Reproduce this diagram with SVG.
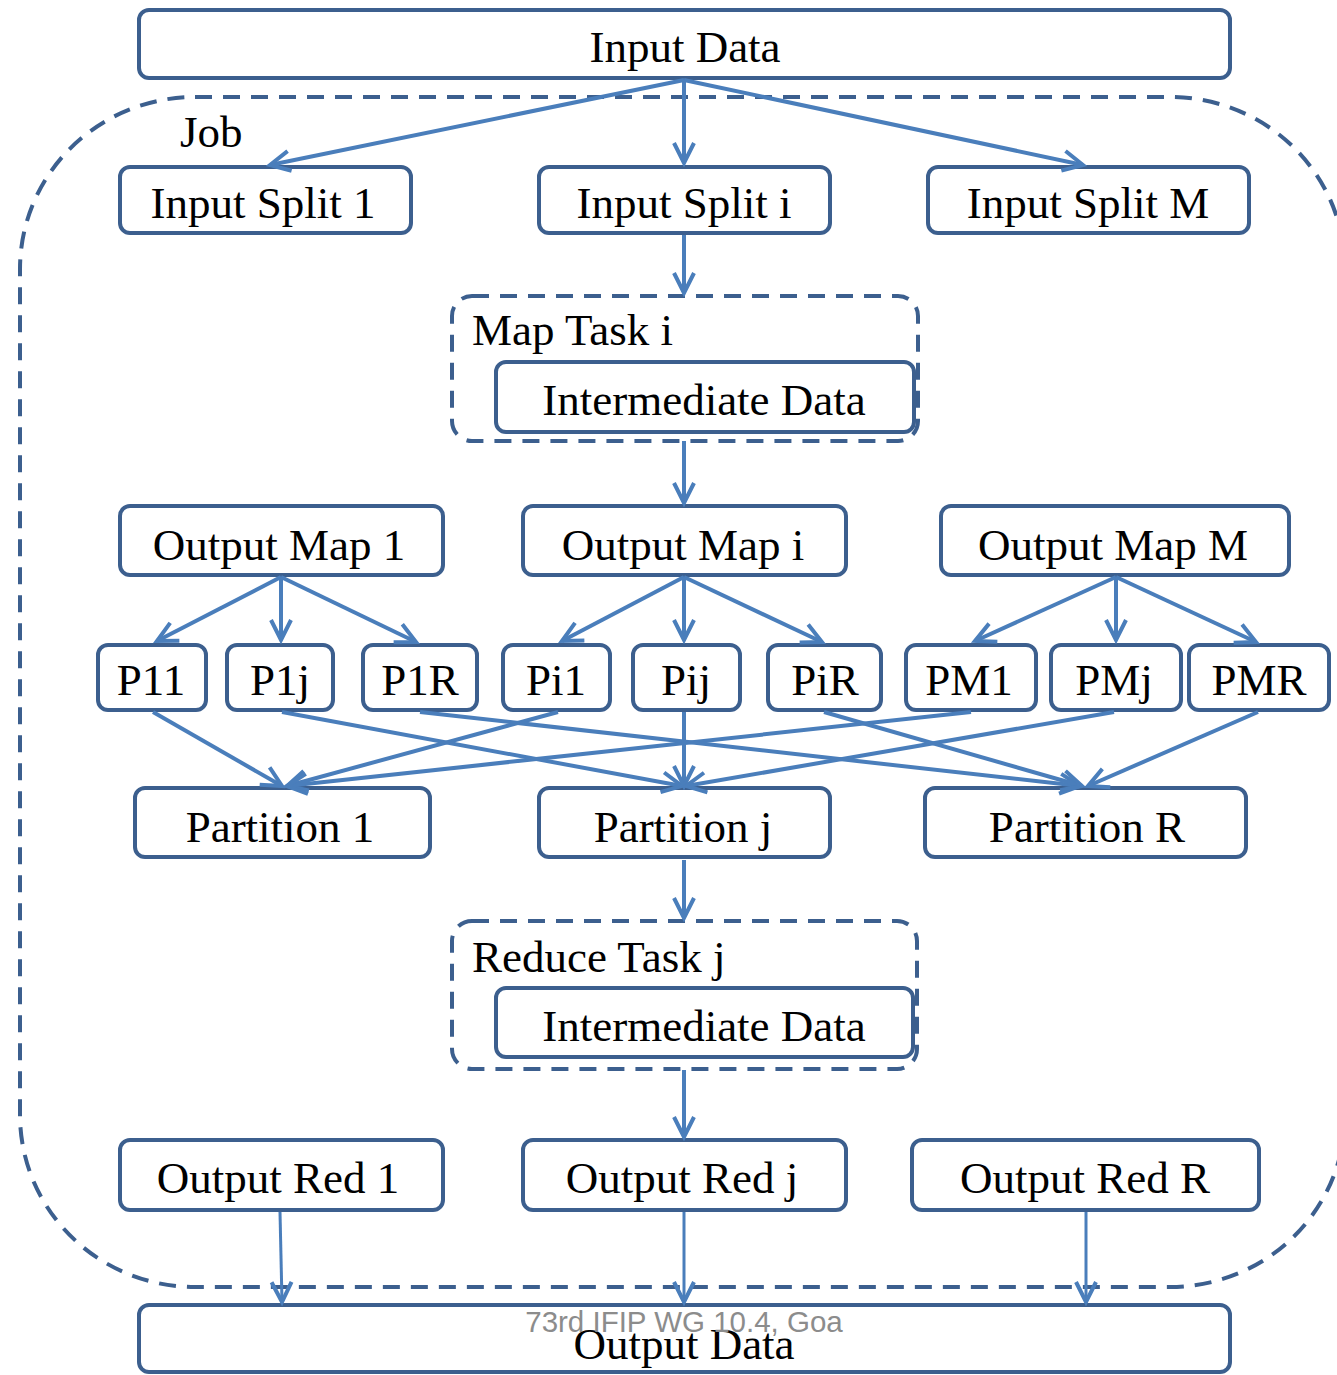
<svg xmlns="http://www.w3.org/2000/svg" width="1337" height="1375" viewBox="0 0 1337 1375">
  <style>
    .box { fill: #ffffff; stroke: #3c5f8e; stroke-width: 4; }
    .dash { fill: none; stroke: #3c5f8e; stroke-width: 4; stroke-dasharray: 17 11; }
    .lbl { font-family: "Liberation Serif", "Times New Roman", serif; font-size: 45px; fill: #000000; }
    .mid { text-anchor: middle; }
    .edge { fill: none; stroke: #4a7ebb; stroke-width: 4; marker-end: url(#arrow); }
    .thin { stroke-width: 3; }
    .note { font-family: "Liberation Sans", Arial, sans-serif; font-size: 29.5px; fill: #8c8c8c; text-anchor: middle; }
  </style>
  <defs>
    <marker id="arrow" markerUnits="userSpaceOnUse" viewBox="-24 -14 28 28" refX="0" refY="0" markerWidth="28" markerHeight="28" orient="auto">
      <path d="M-20,-10 L0,0 L-20,10" fill="none" stroke="#4a7ebb" stroke-width="4"/>
    </marker>
  </defs>

  <rect width="1337" height="1375" fill="#ffffff"/>

  <!-- job boundary -->
  <g id="job">
    <rect class="dash" x="20" y="97" width="1325" height="1190" rx="175" ry="172"/>
    <text class="lbl" x="180" y="147">Job</text>
  </g>

  <g id="input-data">
    <rect class="box" x="139" y="10" width="1091" height="68" rx="10"/>
    <text class="lbl mid" x="685" y="62">Input Data</text>
  </g>

  <g id="input-split-1">
    <rect class="box" x="120" y="167" width="291" height="66" rx="10"/>
    <text class="lbl mid" x="263" y="218">Input Split 1</text>
  </g>
  <g id="input-split-i">
    <rect class="box" x="539" y="167" width="291" height="66" rx="10"/>
    <text class="lbl mid" x="684" y="218">Input Split i</text>
  </g>
  <g id="input-split-m">
    <rect class="box" x="928" y="167" width="321" height="66" rx="10"/>
    <text class="lbl mid" x="1088" y="218">Input Split M</text>
  </g>

  <g id="map-task-i">
    <rect class="dash" x="452" y="296" width="466" height="145" rx="20"/>
    <text class="lbl" x="472" y="345">Map Task i</text>
    <rect class="box" x="496" y="362" width="418" height="70" rx="10"/>
    <text class="lbl mid" x="704" y="415">Intermediate Data</text>
  </g>

  <g id="output-map-1">
    <rect class="box" x="120" y="506" width="323" height="69" rx="10"/>
    <text class="lbl mid" x="279" y="560">Output Map 1</text>
  </g>
  <g id="output-map-i">
    <rect class="box" x="523" y="506" width="323" height="69" rx="10"/>
    <text class="lbl mid" x="683" y="560">Output Map i</text>
  </g>
  <g id="output-map-m">
    <rect class="box" x="941" y="506" width="348" height="69" rx="10"/>
    <text class="lbl mid" x="1113" y="560">Output Map M</text>
  </g>

  <g id="p11">
    <rect class="box" x="98" y="645" width="108" height="65" rx="10"/>
    <text class="lbl mid" x="151" y="695">P11</text>
  </g>
  <g id="p1j">
    <rect class="box" x="227" y="645" width="106" height="65" rx="10"/>
    <text class="lbl mid" x="280" y="695">P1j</text>
  </g>
  <g id="p1r">
    <rect class="box" x="363" y="645" width="114" height="65" rx="10"/>
    <text class="lbl mid" x="420" y="695">P1R</text>
  </g>
  <g id="pi1">
    <rect class="box" x="503" y="645" width="107" height="65" rx="10"/>
    <text class="lbl mid" x="556" y="695">Pi1</text>
  </g>
  <g id="pij">
    <rect class="box" x="633" y="645" width="107" height="65" rx="10"/>
    <text class="lbl mid" x="686" y="695">Pij</text>
  </g>
  <g id="pir">
    <rect class="box" x="768" y="645" width="113" height="65" rx="10"/>
    <text class="lbl mid" x="825" y="695">PiR</text>
  </g>
  <g id="pm1">
    <rect class="box" x="906" y="645" width="130" height="65" rx="10"/>
    <text class="lbl mid" x="969" y="695">PM1</text>
  </g>
  <g id="pmj">
    <rect class="box" x="1051" y="645" width="130" height="65" rx="10"/>
    <text class="lbl mid" x="1114" y="695">PMj</text>
  </g>
  <g id="pmr">
    <rect class="box" x="1189" y="645" width="140" height="65" rx="10"/>
    <text class="lbl mid" x="1259" y="695">PMR</text>
  </g>

  <g id="partition-1">
    <rect class="box" x="135" y="788" width="295" height="69" rx="10"/>
    <text class="lbl mid" x="280" y="842">Partition 1</text>
  </g>
  <g id="partition-j">
    <rect class="box" x="539" y="788" width="291" height="69" rx="10"/>
    <text class="lbl mid" x="683" y="842">Partition j</text>
  </g>
  <g id="partition-r">
    <rect class="box" x="925" y="788" width="321" height="69" rx="10"/>
    <text class="lbl mid" x="1087" y="842">Partition R</text>
  </g>

  <g id="reduce-task-j">
    <rect class="dash" x="452" y="921" width="465" height="148" rx="20"/>
    <text class="lbl" x="472" y="972">Reduce Task j</text>
    <rect class="box" x="496" y="988" width="417" height="69" rx="10"/>
    <text class="lbl mid" x="704" y="1041">Intermediate Data</text>
  </g>

  <g id="output-red-1">
    <rect class="box" x="120" y="1140" width="323" height="70" rx="10"/>
    <text class="lbl mid" x="278" y="1193">Output Red 1</text>
  </g>
  <g id="output-red-j">
    <rect class="box" x="523" y="1140" width="323" height="70" rx="10"/>
    <text class="lbl mid" x="682" y="1193">Output Red j</text>
  </g>
  <g id="output-red-r">
    <rect class="box" x="912" y="1140" width="347" height="70" rx="10"/>
    <text class="lbl mid" x="1085" y="1193">Output Red R</text>
  </g>

  <g id="output-data">
    <rect class="box" x="139" y="1305" width="1091" height="67" rx="10"/>
    <text class="lbl mid" x="684" y="1359">Output Data</text>
  </g>

  <g id="connectors">
    <!-- input data to splits -->
    <line class="edge" x1="684" y1="80" x2="270" y2="165"/>
    <line class="edge" x1="684" y1="80" x2="684" y2="163"/>
    <line class="edge" x1="684" y1="80" x2="1083" y2="165"/>
    <!-- split i to map task, map task to output map i -->
    <line class="edge" x1="684" y1="235" x2="684" y2="293"/>
    <line class="edge" x1="684" y1="441" x2="684" y2="503"/>
    <!-- output maps to per-partition pieces -->
    <line class="edge" x1="281" y1="577" x2="157" y2="641"/>
    <line class="edge" x1="281" y1="577" x2="281" y2="640"/>
    <line class="edge" x1="281" y1="577" x2="416" y2="642"/>
    <line class="edge" x1="684" y1="577" x2="562" y2="641"/>
    <line class="edge" x1="684" y1="577" x2="684" y2="640"/>
    <line class="edge" x1="684" y1="577" x2="822" y2="642"/>
    <line class="edge" x1="1116" y1="577" x2="975" y2="641"/>
    <line class="edge" x1="1116" y1="577" x2="1116" y2="640"/>
    <line class="edge" x1="1116" y1="577" x2="1256" y2="642"/>
    <!-- pieces to partitions -->
    <line class="edge" x1="153" y1="712" x2="282" y2="786"/>
    <line class="edge" x1="558" y1="712" x2="287" y2="786"/>
    <line class="edge" x1="971" y1="712" x2="287" y2="786"/>
    <line class="edge" x1="282" y1="712" x2="682" y2="786"/>
    <line class="edge" x1="684" y1="712" x2="684" y2="786"/>
    <line class="edge" x1="1114" y1="712" x2="686" y2="786"/>
    <line class="edge" x1="420" y1="712" x2="1080" y2="786"/>
    <line class="edge" x1="824" y1="712" x2="1082" y2="786"/>
    <line class="edge" x1="1258" y1="712" x2="1088" y2="786"/>
    <!-- partition j through reduce task to output red j -->
    <line class="edge" x1="684" y1="860" x2="684" y2="918"/>
    <line class="edge" x1="684" y1="1070" x2="684" y2="1137"/>
    <!-- reduce outputs to output data -->
    <line class="edge thin" x1="280" y1="1212" x2="282" y2="1302"/>
    <line class="edge thin" x1="684" y1="1212" x2="684" y2="1302"/>
    <line class="edge thin" x1="1086" y1="1212" x2="1086" y2="1302"/>
  </g>

  <text class="note" x="684" y="1332">73rd IFIP WG 10.4, Goa</text>
</svg>
